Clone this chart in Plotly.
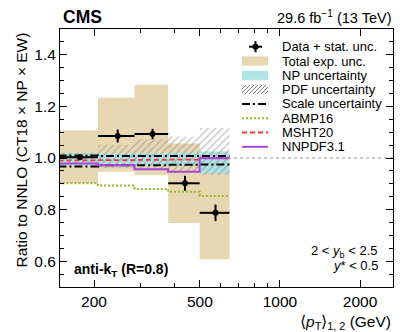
import plotly.graph_objects as go
import math

# ---- data ----
bin_edges = [147, 207, 284, 380, 499, 646]
data_ratio = [1.003, 1.085, 1.093, 0.902, 0.7875]
data_stat = [0.006, 0.025, 0.020, 0.029, 0.032]
tot_lo = [0.902, 0.947, 0.934, 0.748, 0.608]
tot_hi = [1.108, 1.234, 1.284, 1.056, 0.967]
np_lo = [0.970, 0.970, 0.970, 0.970, 0.940]
np_hi = [1.018, 1.018, 1.018, 1.020, 1.025]
pdf_lo = [0.975, 0.960, 0.953, 0.947, 0.934]
pdf_hi = [1.020, 1.051, 1.072, 1.083, 1.116]
scale_up = [1.010, 1.008, 1.008, 1.008, 1.008]
scale_dn = [0.967, 0.972, 0.972, 0.974, 0.975]
abmp16 = [0.902, 0.893, 0.880, 0.869, 0.853]
msht20 = [0.991, 0.992, 0.993, 0.994, 1.000]
nnpdf31 = [0.979, 0.972, 0.956, 0.947, 0.999]
x_tickvals = [200, 500, 1000, 2000]
x_ticktext = ["200", "500", "1000", "2000"]
x_minor = [150, 300, 400, 600, 700, 800, 900, 3000]
y_tickvals = [0.6, 0.8, 1.0, 1.2, 1.4]
y_ticktext = ["0.6", "0.8", "1.0", "1.2", "1.4"]
legend_labels = ["Data + stat. unc.", "Total exp. unc.", "NP uncertainty", "PDF uncertainty",
                 "Scale uncertainty", "ABMP16", "MSHT20", "NNPDF3.1"]

lows = bin_edges[:-1]
highs = bin_edges[1:]
centers = [(a + b) / 2 for a, b in zip(lows, highs)]

# figure geometry (pixels)
W, H = 407, 332
ML, MR, MT, MB = 60, 14, 29, 45
PW, PH = W - ML - MR, H - MT - MB


def px(x):
    return (x - ML) / PW


def py(y):
    return (H - MB - y) / PH


def boxes(lo, hi):
    xs, ys = [], []
    for a, b, y0, y1 in zip(lows, highs, lo, hi):
        xs += [a, b, b, a, a, None]
        ys += [y0, y0, y1, y1, y0, None]
    return xs, ys


def step(vals):
    return bin_edges, list(vals) + [vals[-1]]


TAN = "#e8d7b3"
CYAN = "#b0e4e4"
HATCH = "#7f7f7f"
GREEN = "#93b72e"
RED = "#ff3535"
PURPLE = "#a645dc"
SCALE_DASH = "8px,3px,2px,3px"
fig = go.Figure()

bx, by = boxes(tot_lo, tot_hi)
fig.add_trace(go.Scatter(x=bx, y=by, fill="toself", fillcolor=TAN, mode="lines",
                         line=dict(width=0, color=TAN), showlegend=False))
bx, by = boxes(np_lo, np_hi)
fig.add_trace(go.Scatter(x=bx, y=by, fill="toself", fillcolor=CYAN, mode="lines",
                         line=dict(width=0, color=CYAN), showlegend=False))
bx, by = boxes(pdf_lo, pdf_hi)
fig.add_trace(go.Scatter(x=bx, y=by, fill="toself", fillcolor="rgba(0,0,0,0)", mode="lines",
                         fillpattern=dict(shape="/", fgcolor=HATCH, bgcolor="rgba(0,0,0,0)",
                                          size=5, solidity=0.25),
                         line=dict(width=0, color=HATCH), showlegend=False))

for vals in (scale_up, scale_dn):
    sx, sy = step(vals)
    fig.add_trace(go.Scatter(x=sx, y=sy, mode="lines", line_shape="hv",
                             line=dict(color="black", width=2, dash=SCALE_DASH), showlegend=False))
sx, sy = step(abmp16)
fig.add_trace(go.Scatter(x=sx, y=sy, mode="lines", line_shape="hv",
                         line=dict(color=GREEN, width=2, dash="2px,2px"), showlegend=False))
sx, sy = step(msht20)
fig.add_trace(go.Scatter(x=sx, y=sy, mode="lines", line_shape="hv",
                         line=dict(color=RED, width=1.8, dash="5px,3px"), showlegend=False))
sx, sy = step(nnpdf31)
fig.add_trace(go.Scatter(x=sx, y=sy, mode="lines", line_shape="hv",
                         line=dict(color=PURPLE, width=2), showlegend=False))

fig.add_trace(go.Scatter(
    x=centers, y=data_ratio, mode="markers",
    marker=dict(color="black", size=6),
    error_y=dict(type="data", array=data_stat, color="black", thickness=2, width=0),
    error_x=dict(type="data", array=[h - c for h, c in zip(highs, centers)],
                 arrayminus=[c - l for c, l in zip(centers, lows)],
                 color="black", thickness=2, width=0),
    showlegend=False))

fig.add_shape(type="line", xref="paper", x0=0, x1=1, yref="y", y0=1.0, y1=1.0,
              line=dict(color="#999999", width=1, dash="dot"), layer="below")

# ---- manual legend (pixel layout) ----
row_y = [46.7 + 14.3 * i for i in range(len(legend_labels))]
sx0, sx1 = 242, 268
txt_x = 280


def pshape(**kw):
    kw.update(xref="paper", yref="paper")
    fig.add_shape(**kw)


# data symbol
cy = row_y[0]
pshape(type="line", x0=px(249), x1=px(262), y0=py(cy), y1=py(cy), line=dict(color="black", width=2))
pshape(type="line", x0=px(255.5), x1=px(255.5), y0=py(cy - 5.5), y1=py(cy + 5.5),
       line=dict(color="black", width=2))
pshape(type="circle", x0=px(252.5), x1=px(258.5), y0=py(cy + 3), y1=py(cy - 3),
       fillcolor="black", line=dict(color="black", width=0))
# tan / cyan boxes
for i, col in ((1, TAN), (2, CYAN)):
    cy = row_y[i]
    pshape(type="rect", x0=px(sx0), x1=px(sx1), y0=py(cy + 4.6), y1=py(cy - 4.6),
           fillcolor=col, line=dict(width=0))
# hatch box
cy = row_y[3]
top, bot = cy - 4.6, cy + 4.6
hgt = bot - top
k = sx0 - hgt
while k < sx1:
    xa, ya = k, bot
    xb, yb = k + hgt, top
    if xa < sx0:
        ya = bot - (sx0 - xa)
        xa = sx0
    if xb > sx1:
        yb = top + (xb - sx1)
        xb = sx1
    if xb > xa:
        pshape(type="line", x0=px(xa), x1=px(xb), y0=py(ya), y1=py(yb),
               line=dict(color=HATCH, width=1))
    k += 4
# lines
for i, lw, col, dash in ((4, 2, "black", SCALE_DASH), (5, 2, GREEN, "2px,2px"),
                         (6, 1.8, RED, "5px,3px"), (7, 2, PURPLE, "solid")):
    cy = row_y[i]
    pshape(type="line", x0=px(sx0), x1=px(sx1), y0=py(cy), y1=py(cy),
           line=dict(color=col, width=lw, dash=dash))

FONT = "Liberation Sans, Arial, sans-serif"
fig.update_layout(
    width=W, height=H,
    margin=dict(l=ML, r=MR, t=MT, b=MB, autoexpand=False),
    paper_bgcolor="white", plot_bgcolor="white",
    font=dict(family=FONT, color="black", size=13),
    showlegend=False,
    xaxis=dict(type="log", range=[math.log10(149), math.log10(2660)],
               tickmode="array", tickvals=x_tickvals, ticktext=x_ticktext,
               ticks="inside", ticklen=7, tickwidth=1, tickcolor="black",
               minor=dict(tickmode="array", tickvals=x_minor, ticks="inside", ticklen=4,
                          tickcolor="black"),
               showline=True, linecolor="black", linewidth=1, mirror="allticks",
               showgrid=False, zeroline=False, tickfont=dict(size=15.5), automargin=False),
    yaxis=dict(range=[0.5, 1.5], tickmode="array", tickvals=y_tickvals, ticktext=y_ticktext,
               ticks="inside", ticklen=7, tickwidth=1, tickcolor="black",
               minor=dict(dtick=0.05, tick0=0.5, ticks="inside", ticklen=4, tickcolor="black"),
               showline=True, linecolor="black", linewidth=1, mirror="allticks",
               showgrid=False, zeroline=False, tickfont=dict(size=15.5), automargin=False),
)

ann = [
    dict(text="<b>CMS</b>", x=px(61), y=py(17), xanchor="left", yanchor="middle", font=dict(size=17.5)),
    dict(text="29.6 fb<sup>\u22121</sup> (13 TeV)", x=1, y=py(17), xanchor="right", yanchor="middle",
         font=dict(size=14.5)),
    dict(text="<b>anti-k<sub>T</sub> (R=0.8)</b>", x=px(72), y=py(270), xanchor="left", yanchor="middle",
         font=dict(size=14)),
    dict(text="2 < <i>y</i><sub>b</sub> < 2.5", x=px(380), y=py(251.5), xanchor="right", yanchor="middle",
         font=dict(size=13)),
    dict(text="<i>y</i>* < 0.5", x=px(380), y=py(265.5), xanchor="right", yanchor="middle",
         font=dict(size=13)),
    dict(text="\u27e8<i>p</i><sub>T</sub>\u27e9<sub>1, 2</sub> (GeV)", x=1, y=py(322), xanchor="right",
         yanchor="middle", font=dict(size=15.5)),
    dict(text="Ratio to NNLO (CT18 \u00d7 NP \u00d7 EW)", x=px(21), y=py(31), xanchor="center",
         yanchor="top", textangle=-90, font=dict(size=15.5)),
]
for i, lab in enumerate(legend_labels):
    ann.append(dict(text=lab, x=px(txt_x), y=py(row_y[i]), xanchor="left", yanchor="middle",
                    font=dict(size=13)))
for a in ann:
    a.update(xref="paper", yref="paper", showarrow=False)
    fig.add_annotation(**a)

fig.write_html("out.html", config={"displayModeBar": False},
               post_script="document.body.style.margin='0px';")
